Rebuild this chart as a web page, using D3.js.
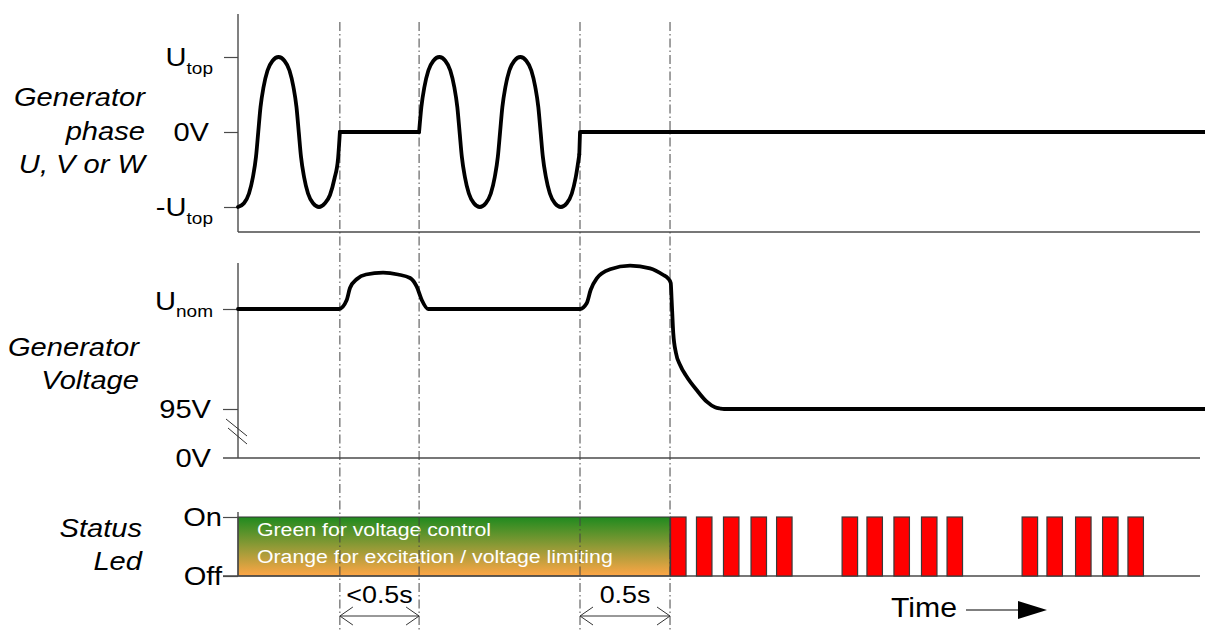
<!DOCTYPE html>
<html><head><meta charset="utf-8">
<script src="https://cdn.jsdelivr.net/npm/d3@7"></script>
<style>body{margin:0;background:#fff}svg{display:block}</style>
</head><body>
<svg id="chart" width="1205" height="630"></svg>
<script>
// ---------------- data (time in seconds) ----------------
const eventTimes = [0.566, 1.006, 1.9, 2.4];

const phaseTickValues = [1, 0, -1];
const phaseTickLabels = [["U", "top"], ["0V", ""], ["-U", "top"]];
const phaseLabel = ["Generator", "phase", "U, V or W"];
// phase voltage (+1 = Utop, -1 = -Utop)
const phaseWaveA = [[0, -1], [0.033, -0.95], [0.061, -0.82], [0.083, -0.6], [0.1, -0.33], [0.1125, 0], [0.125, 0.33], [0.142, 0.6], [0.164, 0.82], [0.192, 0.95], [0.225, 1],
  [0.258, 0.95], [0.286, 0.82], [0.308, 0.6], [0.325, 0.33], [0.3375, 0], [0.35, -0.33], [0.367, -0.6], [0.389, -0.82], [0.417, -0.95], [0.45, -1],
  [0.483, -0.95], [0.511, -0.84], [0.536, -0.62], [0.556, -0.35], [0.566, 0]];
const phaseHoldA = [[0.566, 0], [1.006, 0]];
const phaseWaveB = [[1.006, 0], [1.0185, 0.33], [1.0355, 0.6], [1.0575, 0.82], [1.0855, 0.95], [1.1185, 1],
  [1.1515, 0.95], [1.1795, 0.82], [1.2015, 0.6], [1.2185, 0.33], [1.231, 0], [1.2435, -0.33], [1.2605, -0.6], [1.2825, -0.82], [1.3105, -0.95], [1.3435, -1],
  [1.3765, -0.95], [1.4045, -0.82], [1.4265, -0.6], [1.4435, -0.33], [1.456, 0], [1.4685, 0.33], [1.4855, 0.6], [1.5075, 0.82], [1.5355, 0.95], [1.5685, 1],
  [1.6015, 0.95], [1.6295, 0.82], [1.6515, 0.6], [1.6685, 0.33], [1.681, 0], [1.6935, -0.33], [1.7105, -0.6], [1.7325, -0.82], [1.7605, -0.95], [1.7935, -1],
  [1.8265, -0.95], [1.8545, -0.82], [1.8765, -0.6], [1.896, -0.3]];
const phaseHoldB = [[1.896, -0.3], [1.9, 0], [5.372, 0]];

// generator voltage: level 1 = Unom, level 0 = 95V
const voltageTickValues = [1, 0];
const voltageTickLabels = [["U", "nom"], ["95V", ""]];
const voltageZeroLabel = "0V";
const voltageLabel = ["Generator", "Voltage"];
const voltageTimes  = [0, 0.561, 0.604, 0.622, 0.661, 0.711, 0.806, 0.889, 0.956, 0.993, 1.021, 1.056,
                       1.9, 1.937, 1.959, 1.993, 2.067, 2.178, 2.289, 2.363, 2.389, 2.404, 2.409, 2.418, 2.433, 2.456, 2.493, 2.548, 2.604, 2.65, 2.678, 2.7, 5.372];
const voltageLevels = [1, 1, 1.09, 1.21, 1.30, 1.345, 1.363, 1.345, 1.31, 1.223, 1.09, 1.0,
                       1.0, 1.057, 1.19, 1.307, 1.397, 1.433, 1.407, 1.34, 1.307, 1.26, 1.09, 0.76, 0.56, 0.44, 0.323, 0.19, 0.073, 0.017, 0.005, 0, 0];

// status led
const statusTickValues = [1, 0];
const statusTickLabels = ["On", "Off"];
const statusLabel = ["Status", "Led"];
const ledSteady = [0, 2.4];
const ledNotes = ["Green for voltage control", "Orange for excitation / voltage limiting"];
const ledBlinkStarts = [2.403, 2.547, 2.697, 2.850, 2.992,
                        3.356, 3.494, 3.644, 3.797, 3.939,
                        4.356, 4.494, 4.653, 4.803, 4.944];
const ledBlinkDuration = 0.086;

const dimFrom = [0.566, 1.9];
const dimTo = [1.006, 2.4];
const dimLabels = ["<0.5s", "0.5s"];
const timeLabel = "Time";

// ---------------- drawing ----------------
const svg = d3.select("#chart");
const FONT = "'Liberation Sans', Arial, Helvetica, sans-serif";
const SX = 1.12;
const x = d3.scaleLinear().domain([0, 5.372]).range([238, 1205]);
const yP = d3.scaleLinear().domain([-1, 1]).range([207, 57]);
const yV = d3.scaleLinear().domain([0, 1]).range([409, 309]);
const yS = d3.scaleLinear().domain([0, 1]).range([576, 517]);
const AX = "#4a4a4a";

function txt(x0, y0, size, anchor, parts, opts = {}) {
  const t = svg.append("text")
    .attr("transform", `translate(${x0},${y0}) scale(${SX},1)`)
    .attr("font-family", FONT).attr("font-size", size)
    .attr("text-anchor", anchor).attr("fill", opts.fill || "#000");
  if (opts.italic) t.attr("font-style", "italic");
  parts.forEach(p => {
    if (!p[0]) return;
    const s = t.append("tspan").text(p[0]);
    if (p[1]) s.attr("font-size", p[1]);
    if (p[2]) s.attr("dy", p[2]);
  });
  return t;
}

// gradient for steady led
const defs = svg.append("defs");
const grad = defs.append("linearGradient").attr("id", "led").attr("x1", 0).attr("y1", 0).attr("x2", 0).attr("y2", 1);
grad.append("stop").attr("offset", "0").attr("stop-color", "#1f8a1f");
grad.append("stop").attr("offset", "0.5").attr("stop-color", "#8f9a36");
grad.append("stop").attr("offset", "1").attr("stop-color", "#ffa646");

svg.append("rect")
  .attr("x", x(ledSteady[0])).attr("y", yS(1))
  .attr("width", x(ledSteady[1]) - x(ledSteady[0])).attr("height", yS(0) - yS(1))
  .attr("fill", "url(#led)").attr("stroke", "#333").attr("stroke-width", 1);

ledNotes.forEach((n, i) => txt(257, 536 + i * 27, 19, "start", [[n]], {fill: "#fff"}));

// axes lines
function hline(y, x1, x2) {
  svg.append("line").attr("x1", x1).attr("x2", x2).attr("y1", y).attr("y2", y)
    .attr("stroke", AX).attr("stroke-width", 1.4);
}
function vline(xv, y1, y2) {
  svg.append("line").attr("x1", xv).attr("x2", xv).attr("y1", y1).attr("y2", y2)
    .attr("stroke", AX).attr("stroke-width", 1.4);
}
vline(x(0), 14, 232); hline(232, x(0), 1200);
vline(x(0), 263, 458); hline(458, 223, 1200);
vline(x(0), 512, 576); hline(576, 223, 1200);

// tick marks via d3 axes
function ticks(scale, vals, len) {
  const g = svg.append("g").attr("transform", `translate(${x(0)},0)`)
    .call(d3.axisLeft(scale).tickValues(vals).tickSize(len).tickSizeOuter(0).tickFormat(""));
  g.select(".domain").remove();
  g.selectAll(".tick line").attr("stroke", AX).attr("stroke-width", 1.2);
}
ticks(yP, phaseTickValues, 14);
ticks(yV, voltageTickValues, 15);
ticks(yS, statusTickValues, 15);

// axis break marks
svg.append("line").attr("x1", 226).attr("y1", 419).attr("x2", 247).attr("y2", 436).attr("stroke", "#333").attr("stroke-width", 1);
svg.append("line").attr("x1", 228).attr("y1", 428).attr("x2", 247).attr("y2", 444).attr("stroke", "#333").attr("stroke-width", 1);

// tick labels
phaseTickValues.forEach((v, i) => {
  const l = phaseTickLabels[i];
  txt(l[1] ? 213 : 209, yP(v) + 9, 26, "end", [[l[0]], [l[1], 17, 8]]);
});
voltageTickValues.forEach((v, i) => {
  const l = voltageTickLabels[i];
  txt(l[1] ? 213 : 211, yV(v) + (l[1] ? 1 : 9), 26, "end", [[l[0]], [l[1], 17, 7]]);
});
txt(211, 467, 26, "end", [[voltageZeroLabel]]);
statusTickValues.forEach((v, i) => txt(222, yS(v) + 9, 26, "end", [[statusTickLabels[i]]]));

// panel labels
phaseLabel.forEach((s, i) => txt(145, 106 + i * 33.5, 26, "end", [[s]], {italic: true}));
voltageLabel.forEach((s, i) => txt(139, 356 + i * 33, 26, "end", [[s]], {italic: true}));
statusLabel.forEach((s, i) => txt(142, 537 + i * 33, 26, "end", [[s]], {italic: true}));

// event lines
svg.append("g").selectAll("line").data(eventTimes).join("line")
  .attr("x1", d => x(d)).attr("x2", d => x(d)).attr("y1", 22).attr("y2", 630)
  .attr("stroke", "#444").attr("stroke-width", 1).attr("stroke-dasharray", "9,3,1.5,3");

// waveforms
const smooth = d3.line().x(d => x(d[0])).curve(d3.curveMonotoneX);
const straight = d3.line().x(d => x(d[0])).curve(d3.curveLinear);
const wave = (gen, data, ys) => svg.append("path").datum(data)
  .attr("d", gen.y(d => ys(d[1]))).attr("fill", "none").attr("stroke", "#000")
  .attr("stroke-width", 3.8).attr("stroke-linejoin", "round").attr("stroke-linecap", "round");
wave(smooth, phaseWaveA, yP);
wave(straight, phaseHoldA, yP);
wave(smooth, phaseWaveB, yP);
wave(straight, phaseHoldB, yP);
wave(smooth, voltageTimes.map((t, i) => [t, voltageLevels[i]]), yV);

// blinking led bars
svg.append("g").selectAll("rect").data(ledBlinkStarts).join("rect")
  .attr("x", d => x(d)).attr("y", yS(1))
  .attr("width", d => x(d + ledBlinkDuration) - x(d)).attr("height", yS(0) - yS(1))
  .attr("fill", "#ff0000").attr("stroke", "#3a3a3a").attr("stroke-width", 1.2);

// dimension arrows
dimLabels.forEach((lab, i) => {
  const a = x(dimFrom[i]), b = x(dimTo[i]), y = 616;
  svg.append("line").attr("x1", a).attr("x2", b).attr("y1", y).attr("y2", y).attr("stroke", "#333").attr("stroke-width", 1);
  svg.append("path").attr("d", `M${a + 13},${y - 9}L${a},${y}L${a + 13},${y + 9}M${b - 13},${y - 9}L${b},${y}L${b - 13},${y + 9}`)
    .attr("fill", "none").attr("stroke", "#333").attr("stroke-width", 1);
  txt((a + b) / 2, 603, 24, "middle", [[lab]]);
});

// time arrow
txt(891, 617, 27, "start", [[timeLabel]]);
svg.append("line").attr("x1", 966).attr("x2", 1020).attr("y1", 610).attr("y2", 610).attr("stroke", "#000").attr("stroke-width", 1.2);
svg.append("path").attr("d", "M1018,601L1047,610L1018,619Z").attr("fill", "#000");
</script>
</body></html>
